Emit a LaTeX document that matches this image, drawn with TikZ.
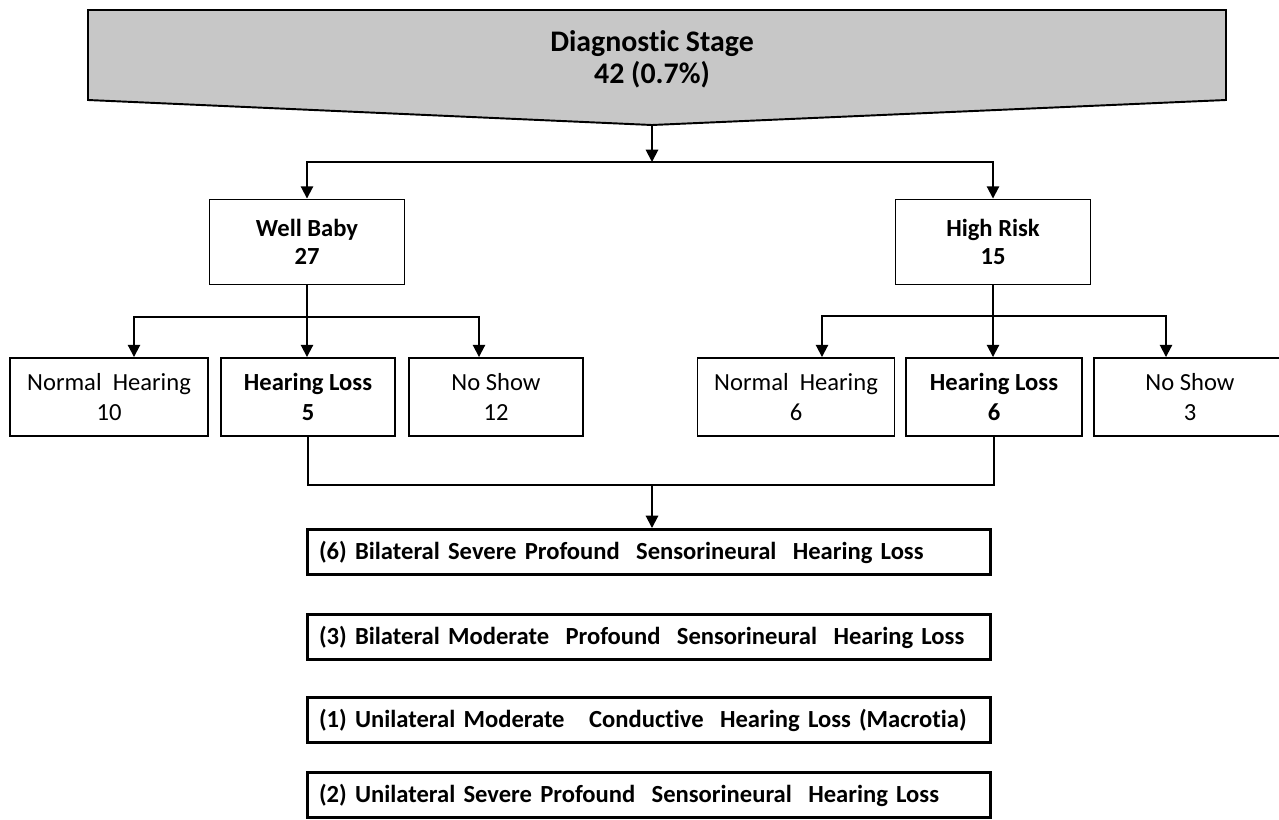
\documentclass[tikz,border=0pt]{standalone}
\usepackage{fontspec}
\setmainfont{Carlito}[Ligatures=NoCommon]
\usetikzlibrary{arrows.meta}

\begin{document}
\begin{tikzpicture}[x=0.02cm, y=0.02cm]
            \tikzstyle{every node}+=[inner sep=0pt]
            \tikzstyle{box}=[draw=black, line width=1.1pt, align=center, minimum height=1.56cm, font=\fontsize{14}{17}\selectfont]
            \tikzstyle{result}=[draw=black, line width=1.7pt, minimum width=13.68cm, minimum height=0.9cm, text width=13.2cm, align=left, font=\bfseries\fontsize{14}{17}\selectfont]
            \tikzstyle{link}=[black, line width=1.1pt]
            \tikzstyle{arrow}=[link, -{Triangle[length=7pt,width=7pt]}]
            \useasboundingbox (0,0) rectangle (1279,-819);
            % diagnostic stage
            \draw [black, line width=1.1pt, fill=black!22] (88,-10) -- (1226,-10) -- (1226,-100) -- (652,-125) coordinate (tip) -- (88,-100) -- cycle;
            \node [align=center, font=\bfseries\fontsize{17}{18}\selectfont] (stage) at (652,-59) {Diagnostic Stage\\42 (0.7\%)};
            \coordinate (fork) at (652,-162);
            \node [box, minimum width=3.9cm, minimum height=1.7cm, font=\bfseries\fontsize{14}{16}\selectfont] (wb) at (307,-242) {Well Baby\\27};
            \node [box, minimum width=3.9cm, minimum height=1.7cm, font=\bfseries\fontsize{14}{16}\selectfont] (hr) at (993,-242) {High Risk\\15};
            \draw [arrow] (tip) -- (fork);
            \draw [arrow] (fork) -| (wb.north);
            \draw [arrow] (fork) -| (hr.north);
            % well baby
            \node [box, minimum width=3.96cm] (nhL) at (109,-397) {Normal~ Hearing\\10};
            \node [box, minimum width=3.48cm, font=\bfseries\fontsize{14}{17}\selectfont] (hlL) at (308,-397) {Hearing Loss\\5};
            \node [box, minimum width=3.48cm] (noL) at (496,-397) {No Show\\12};
            \coordinate (wbfork) at (307,-317);
            \draw [link] (wb.south) -- (wbfork);
            \draw [arrow] (wbfork) -| ([xshift=0.5cm]nhL.north);
            \draw [arrow] (wbfork) -- (wbfork |- hlL.north);
            \draw [arrow] (wbfork) -| ([xshift=-0.34cm]noL.north);
            % high risk
            \node [box, minimum width=3.94cm] (nhR) at (796,-397) {Normal~ Hearing\\6};
            \node [box, minimum width=3.52cm, font=\bfseries\fontsize{14}{17}\selectfont] (hlR) at (994,-397) {Hearing Loss\\6};
            \node [box, minimum width=3.84cm] (noR) at (1190,-397) {No Show\\3};
            \coordinate (hrfork) at (993,-316);
            \draw [link] (hr.south) -- (hrfork);
            \draw [arrow] (hrfork) -| ([xshift=0.52cm]nhR.north);
            \draw [arrow] (hrfork) -- (hrfork |- hlR.north);
            \draw [arrow] (hrfork) -| ([xshift=-0.48cm]noR.north);
            % hearing loss types
            \node [result] (r1) at (649,-552) {(6) Bilateral Severe Profound~ Sensorineural~ Hearing Loss};
            \node [result] (r2) at (649,-637) {(3) Bilateral Moderate~ Profound~ Sensorineural~ Hearing Loss};
            \node [result] (r3) at (649,-720) {(1) Unilateral Moderate~~ Conductive~ Hearing Loss (Macrotia)};
            \node [result] (r4) at (649,-795) {(2) Unilateral Severe Profound~ Sensorineural~ Hearing Loss};
            \coordinate (merge) at (652,-485);
            \draw [link] (hlL.south) |- (hlR.south |- merge) -- (hlR.south);
            \draw [arrow] (merge) -- (merge |- r1.north);
            \end{tikzpicture}
\end{document}
